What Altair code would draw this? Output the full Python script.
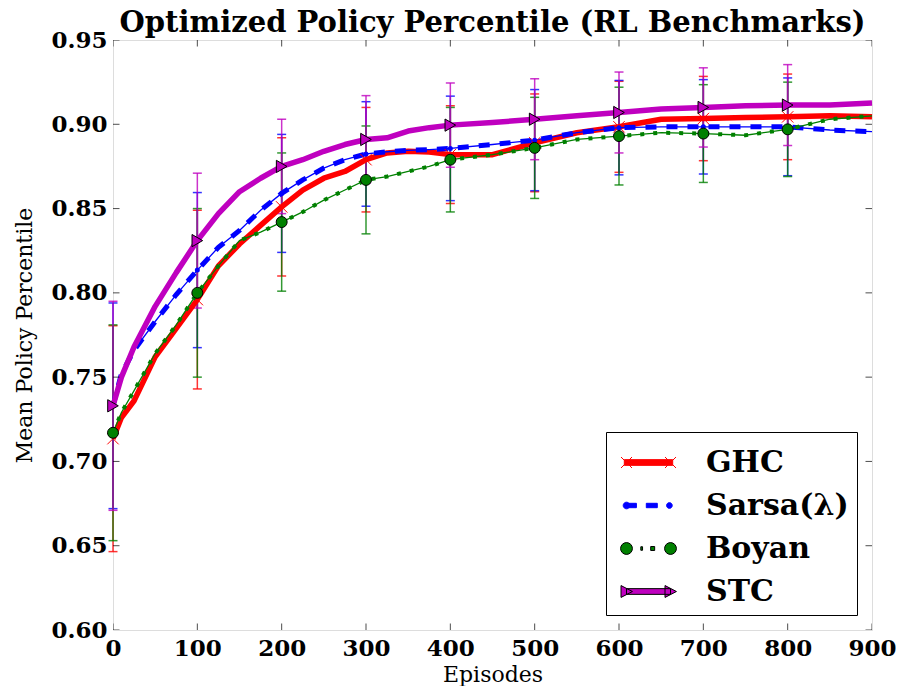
import math

import altair as alt
import pandas as pd

# ---------------- data ----------------
episodes = [0, 10, 25, 50, 75, 100, 125, 150, 175, 200, 225, 250, 275, 300, 325,
            350, 375, 400, 450, 500, 550, 600, 650, 700, 750, 800, 850, 900]
ghc = [0.7135, 0.726, 0.736, 0.762, 0.779, 0.796, 0.816, 0.829, 0.840, 0.851, 0.861,
       0.868, 0.872, 0.879, 0.883, 0.884, 0.8835, 0.882, 0.882, 0.889, 0.895, 0.8985,
       0.903, 0.9034, 0.904, 0.9044, 0.905, 0.9044]
sarsa = [0.733, 0.752, 0.766, 0.783, 0.799, 0.8135, 0.827, 0.837, 0.849, 0.859, 0.867,
         0.874, 0.879, 0.8824, 0.8837, 0.8845, 0.885, 0.8857, 0.888, 0.8906, 0.895, 0.898,
         0.8985, 0.8985, 0.8985, 0.8985, 0.8966, 0.8956]
boyan = [0.717, 0.729, 0.742, 0.764, 0.781, 0.800, 0.816, 0.831, 0.836, 0.842, 0.848,
         0.855, 0.861, 0.867, 0.869, 0.872, 0.875, 0.879, 0.882, 0.886, 0.891, 0.893,
         0.895, 0.8945, 0.8935, 0.897, 0.903, 0.905]
stc = [0.733, 0.750, 0.768, 0.792, 0.812, 0.831, 0.847, 0.860, 0.868, 0.875, 0.879,
       0.884, 0.888, 0.891, 0.892, 0.896, 0.898, 0.8995, 0.901, 0.903, 0.905, 0.907,
       0.909, 0.910, 0.911, 0.9114, 0.9115, 0.9126]

bar_episodes = [0, 100, 200, 300, 400, 500, 600, 700, 800]
ghc_err = [0.067, 0.053, 0.041, 0.031, 0.029, 0.029, 0.027, 0.025, 0.0254]
sarsa_err = [0.061, 0.046, 0.035, 0.031, 0.031, 0.030, 0.028, 0.028, 0.029]
boyan_err = [0.064, 0.050, 0.041, 0.032, 0.031, 0.030, 0.029, 0.029, 0.028]
stc_err = [0.062, 0.040, 0.028, 0.026, 0.025, 0.024, 0.024, 0.0235, 0.024]

series_names = ["GHC", "Sarsa(λ)", "Boyan", "STC"]
series_colors = ["#ff0000", "#0000ff", "#008000", "#bf00bf"]
legend_edges = ["#ff0000", "#0000ff", "#000000", "#000000"]

x_ticks = [0, 100, 200, 300, 400, 500, 600, 700, 800, 900]
y_ticks = [0.60, 0.65, 0.70, 0.75, 0.80, 0.85, 0.90, 0.95]


# legend glyphs (line + markers), in symbol units
def _circle(cx, r):
    pts = [(cx + r * math.cos(i * math.pi / 8), r * math.sin(i * math.pi / 8)) for i in range(16)]
    return "M" + "L".join(f"{x:.3f},{y:.3f}" for x, y in pts) + "Z"


def _rect(x0, x1, h):
    return f"M{x0},{-h}L{x1},{-h}L{x1},{h}L{x0},{h}Z"


legend_paths = [
    _rect(-1.1, 1.1, 0.13)
    + "M-1.25,-0.25L-0.75,0.25M-1.25,0.25L-0.75,-0.25"
    + "M0.75,-0.25L1.25,0.25M0.75,0.25L1.25,-0.25",
    _circle(-1.0, 0.15) + _rect(-1.0, -0.55, 0.1) + _rect(-0.1, 0.4, 0.1) + _circle(0.95, 0.13),
    _circle(-1.0, 0.27) + _rect(-0.35, -0.27, 0.08) + _rect(0.1, 0.28, 0.09) + _circle(1.0, 0.27),
    _rect(-1.0, 1.0, 0.13) + "M-1.25,-0.27L-0.73,0L-1.25,0.27Z" + "M0.75,-0.27L1.27,0L0.75,0.27Z",
]

# ---------------- tables ----------------
all_vals = {"GHC": ghc, "Sarsa(λ)": sarsa, "Boyan": boyan, "STC": stc}
all_errs = {"GHC": ghc_err, "Sarsa(λ)": sarsa_err, "Boyan": boyan_err, "STC": stc_err}

line_rows = []
for name in series_names:
    for e, v in zip(episodes, all_vals[name]):
        line_rows.append({"ep": e, "val": v, "series": name})
lines_df = pd.DataFrame(line_rows)

bar_rows = []
for name in series_names:
    for e, err in zip(bar_episodes, all_errs[name]):
        v = all_vals[name][episodes.index(e)]
        bar_rows.append({"ep": e, "val": v, "lo": v - err, "hi": v + err, "series": name})
bars_df = pd.DataFrame(bar_rows)

xt_df = pd.DataFrame({"ep": x_ticks})
yt_df = pd.DataFrame({"val": y_ticks})
# legend carrier: rows placed below the y domain, clipped away
leg_df = pd.DataFrame({"entry": series_names, "ep": [450] * 4, "val": [0.40] * 4})

# ---------------- encodings ----------------
FONT = "DejaVu Serif"
xscale = alt.Scale(domain=[0, 900], nice=False, zero=False)
yscale = alt.Scale(domain=[0.60, 0.95], nice=False, zero=False)
xaxis = alt.Axis(values=x_ticks, title="Episodes", format="d", ticks=False, tickSize=0,
                 domain=False, grid=False, labelPadding=7, titlePadding=4,
                 labelFont=FONT, labelFontWeight="bold", labelFontSize=23,
                 labelColor="black", titleFont=FONT, titleFontWeight="normal",
                 titleFontSize=22, titleColor="black", labelFlush=False)
yaxis = alt.Axis(values=y_ticks, title="Mean Policy Percentile", format=".2f", ticks=False,
                 tickSize=0, domain=False, grid=False, labelPadding=6, titlePadding=14,
                 labelFont=FONT, labelFontWeight="bold", labelFontSize=23,
                 labelColor="black", titleFont=FONT, titleFontWeight="normal",
                 titleFontSize=22, titleColor="black", labelFlush=False)
X = alt.X("ep:Q", scale=xscale, axis=xaxis)
Y = alt.Y("val:Q", scale=yscale, axis=yaxis)
YLO = alt.Y("lo:Q", scale=yscale, axis=yaxis)
YHI = alt.Y("hi:Q", scale=yscale, axis=yaxis)


def sel(name):
    return alt.datum.series == name


base = alt.Chart(lines_df)
bars = alt.Chart(bars_df)

layers = []
# error bars with caps, one colour per series
for name, c in zip(series_names, series_colors):
    b = bars.transform_filter(sel(name))
    layers.append(b.mark_rule(strokeWidth=1.5, opacity=0.8, color=c).encode(x=X, y=YLO, y2="hi:Q"))
    layers.append(b.mark_tick(orient="horizontal", size=9, thickness=1.5, opacity=0.8,
                              color=c).encode(x=X, y=YLO))
    layers.append(b.mark_tick(orient="horizontal", size=9, thickness=1.5, opacity=0.8,
                              color=c).encode(x=X, y=YHI))

# lines
layers.append(base.transform_filter(sel("GHC")).mark_line(
    color="#ff0000", strokeWidth=5.5, strokeJoin="round").encode(x=X, y=Y))
layers.append(base.transform_filter(sel("Sarsa(λ)")).mark_line(
    color="#0000ff", strokeWidth=1.3).encode(x=X, y=Y))
layers.append(base.transform_filter(sel("Sarsa(λ)")).mark_line(
    color="#0000ff", strokeWidth=5, strokeDash=[11, 10]).encode(x=X, y=Y))
layers.append(base.transform_filter(sel("Boyan")).mark_line(
    color="#008000", strokeWidth=1.3).encode(x=X, y=Y))
layers.append(base.transform_filter(sel("Boyan")).mark_line(
    color="#008000", strokeWidth=4, strokeDash=[4, 9]).encode(x=X, y=Y))
layers.append(base.transform_filter(sel("STC")).mark_line(
    color="#bf00bf", strokeWidth=5.5, strokeJoin="round").encode(x=X, y=Y))

# markers
layers.append(bars.transform_filter(sel("GHC")).mark_point(
    shape="M-1,-1L1,1M-1,1L1,-1", filled=False, color="#ff0000", strokeWidth=1,
    size=130, opacity=1).encode(x=X, y=Y))
layers.append(bars.transform_filter(sel("Sarsa(λ)")).mark_point(
    shape="circle", filled=True, color="#0000ff", size=25, opacity=1).encode(x=X, y=Y))
layers.append(bars.transform_filter(sel("Boyan")).mark_point(
    shape="circle", filled=True, fill="#008000", stroke="black", strokeWidth=1,
    size=120, opacity=1).encode(x=X, y=Y))
layers.append(bars.transform_filter(sel("STC")).mark_point(
    shape="triangle-right", filled=True, fill="#bf00bf", stroke="black", strokeWidth=1,
    size=150, opacity=1).encode(x=X, y=Y))

# inward frame ticks
layers.append(alt.Chart(xt_df).transform_calculate(lo="0.60").mark_tick(
    orient="vertical", size=13, thickness=1, color="black", clip=True).encode(x=X, y=YLO))
layers.append(alt.Chart(xt_df).transform_calculate(hi="0.95").mark_tick(
    orient="vertical", size=13, thickness=1, color="black", clip=True).encode(x=X, y=YHI))
layers.append(alt.Chart(yt_df).transform_calculate(left="0").mark_tick(
    orient="horizontal", size=13, thickness=1, color="black", clip=True).encode(
    x=alt.X("left:Q", scale=xscale, axis=xaxis), y=Y))
layers.append(alt.Chart(yt_df).transform_calculate(right="900").mark_tick(
    orient="horizontal", size=13, thickness=1, color="black", clip=True).encode(
    x=alt.X("right:Q", scale=xscale, axis=xaxis), y=Y))

# legend (glyphs drawn by the legend itself)
leg_kw = dict(title=None, orient="bottom-right", offset=15, strokeColor="black",
              fillColor="white", padding=8, symbolSize=1936, symbolStrokeWidth=1,
              symbolOffset=12, rowPadding=5, labelOffset=35, labelFont=FONT,
              labelFontWeight="bold", labelFontSize=30, labelColor="black",
              symbolOpacity=1, cornerRadius=0)
layers.append(alt.Chart(leg_df).mark_point(filled=True, clip=True, opacity=1).encode(
    x=X, y=Y,
    fill=alt.Fill("entry:N", scale=alt.Scale(domain=series_names, range=series_colors),
                  legend=alt.Legend(**leg_kw)),
    stroke=alt.Stroke("entry:N", scale=alt.Scale(domain=series_names, range=legend_edges),
                      legend=alt.Legend(**leg_kw)),
    shape=alt.Shape("entry:N", scale=alt.Scale(domain=series_names, range=legend_paths),
                    legend=alt.Legend(**leg_kw)),
))

chart = alt.layer(*layers).properties(
    width=759, height=590,
    padding={"left": 105, "top": 32, "right": 24, "bottom": 56},
    autosize=alt.AutoSizeParams(type="none"),
    title=alt.Title("Optimized Policy Percentile (RL Benchmarks)", font=FONT,
                    fontWeight="bold", fontSize=29, color="black", anchor="middle",
                    offset=-9),
).configure_view(stroke="black", strokeWidth=1.5).configure(background="white")

chart.save("out.html", embed_options={"renderer": "svg", "actions": False})
